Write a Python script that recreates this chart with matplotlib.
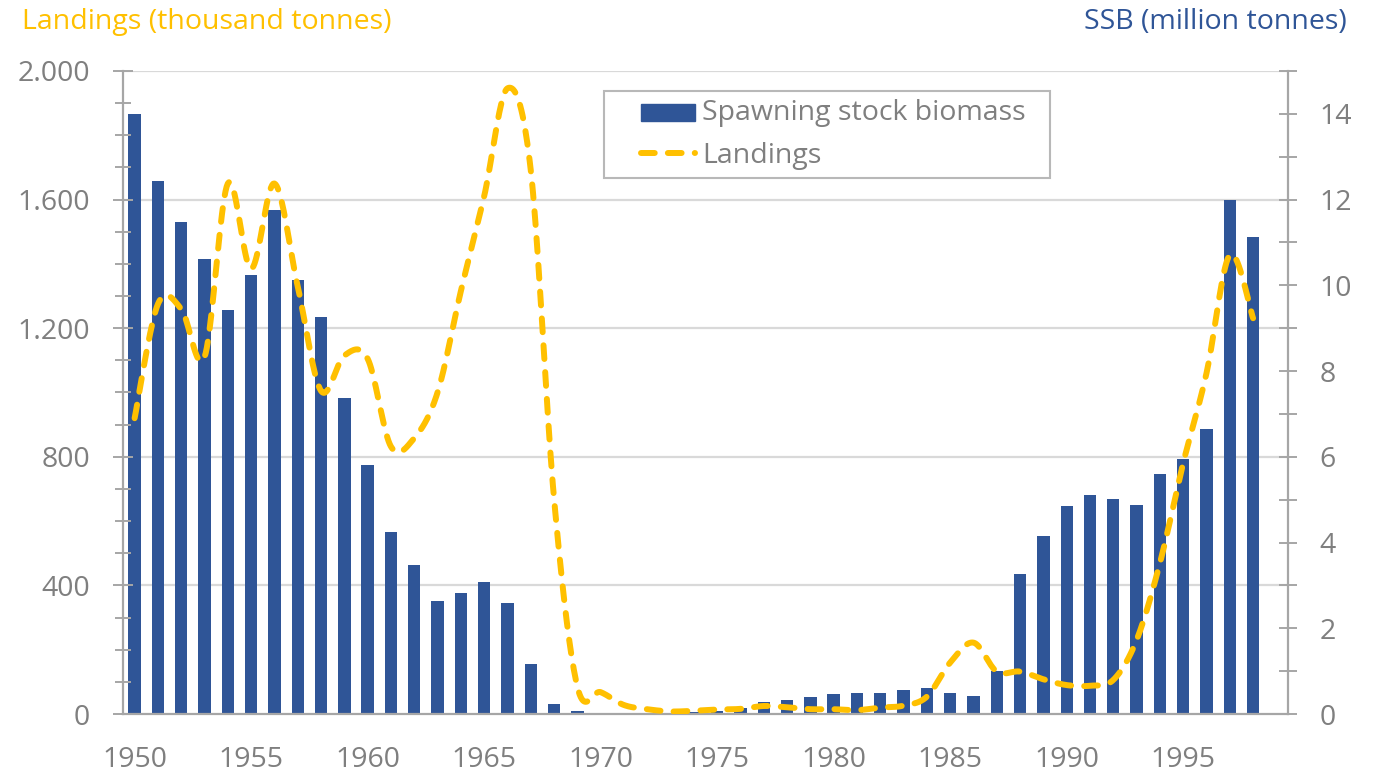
import numpy as np
import matplotlib
matplotlib.use("Agg")
import matplotlib.pyplot as plt
from matplotlib.patches import Patch, Rectangle
from matplotlib.lines import Line2D
from matplotlib.legend_handler import HandlerPatch, HandlerLine2D

plt.rcParams['font.family'] = ['Open Sans', 'DejaVu Sans']

# data
years = list(range(1950, 1999))
# spawning stock biomass, million tonnes (right axis)
ssb = [14.0, 12.44, 11.48, 10.62, 9.43, 10.23, 11.76, 10.13, 9.27, 7.36,
       5.82, 4.24, 3.47, 2.63, 2.82, 3.07, 2.59, 1.16, 0.23, 0.07,
       0.02, 0.01, 0.02, 0.03, 0.05, 0.06, 0.14, 0.27, 0.33, 0.39,
       0.47, 0.49, 0.49, 0.57, 0.60, 0.49, 0.42, 1.0, 3.27, 4.15,
       4.85, 5.11, 5.01, 4.87, 5.59, 5.94, 6.64, 12.0, 11.13]
# landings, thousand tonnes (left axis)
landings = [920, 1275, 1260, 1110, 1650, 1385, 1650, 1330, 1005, 1115,
            1105, 832, 858, 1000, 1315, 1610, 1946, 1692, 670, 85,
            68, 28, 15, 8, 10, 14, 16, 25, 21, 15,
            15, 12, 20, 26, 54, 160, 222, 132, 132, 108,
            90, 88, 106, 230, 469, 780, 1060, 1428, 1231]

year_labels = [1950, 1955, 1960, 1965, 1970, 1975, 1980, 1985, 1990, 1995]
left_ticks = [0, 400, 800, 1200, 1600, 2000]
right_ticks = [0, 2, 4, 6, 8, 10, 12, 14]

BLUE = "#2F5597"
GOLD = "#FFC000"
GREY = "#7F7F7F"
AXGREY = "#A6A6A6"
GRIDC = "#D9D9D9"
FS = 20.5
DASH = (0, (2.3, 2.2))


def smooth(x, y, n=20):
    # Excel style smoothed line (Catmull-Rom bezier through the points)
    x = np.asarray(x, float)
    y = np.asarray(y, float)
    px, py = [], []
    for i in range(len(x) - 1):
        x0, y0 = (x[i - 1], y[i - 1]) if i > 0 else (x[i], y[i])
        x3, y3 = (x[i + 2], y[i + 2]) if i + 2 < len(x) else (x[i + 1], y[i + 1])
        x1, y1, x2, y2 = x[i], y[i], x[i + 1], y[i + 1]
        c1x, c1y = x1 + (x2 - x0) / 6, y1 + (y2 - y0) / 6
        c2x, c2y = x2 - (x3 - x1) / 6, y2 - (y3 - y1) / 6
        t = np.linspace(0, 1, n, endpoint=False)
        a, b, c, d = (1 - t) ** 3, 3 * t * (1 - t) ** 2, 3 * t ** 2 * (1 - t), t ** 3
        px.extend(a * x1 + b * c1x + c * c2x + d * x2)
        py.extend(a * y1 + b * c1y + c * c2y + d * y2)
    px.append(x[-1])
    py.append(y[-1])
    return np.array(px), np.array(py)


# legend handles sit on the right part of the handle box, like in Excel
SHIFT = 0.34


def bar_handle(legend, orig_handle, xdescent, ydescent, width, height, fontsize):
    return Rectangle((-xdescent + width * SHIFT, -ydescent - height * 0.05),
                     width * (1 - SHIFT), height * 0.85)


class ShiftedLine(HandlerLine2D):
    def get_xdata(self, legend, xdescent, ydescent, width, height, fontsize):
        xd = np.array([-xdescent + width * SHIFT, -xdescent + width])
        return xd, xd


fig = plt.figure(figsize=(13.77, 7.73), dpi=100)
ax = fig.add_axes([0.0893, 0.0763, 0.8461, 0.8319])
ax2 = ax.twinx()
ax.set_zorder(2)
ax.patch.set_visible(False)
ax2.set_zorder(1)

LMAX = 2000
RMAX = 15

# bars on the right axis
ax2.bar(years, ssb, width=0.53, color=BLUE, zorder=2)
ax2.set_ylim(0, RMAX)
# horizontal grid at the left axis ticks
for v in left_ticks[1:]:
    ax2.axhline(v * RMAX / LMAX, color=GRIDC, lw=1.6, zorder=0)

# landings line on the left axis
sx, sy = smooth(years, landings)
ax.plot(sx, sy, color=GOLD, lw=4.3, ls=DASH,
        dash_capstyle='round', solid_capstyle='round', zorder=3)
ax.set_ylim(0, LMAX)
ax.set_xlim(1949.5, 1999.5)

# left axis
ax.set_yticks(left_ticks)
ax.set_yticklabels(["{:,}".format(v).replace(",", ".") for v in left_ticks])
ax.set_yticks(np.arange(0, LMAX + 1, 100), minor=True)
ax.tick_params(axis='y', which='major', direction='inout', length=15, width=1.4,
               color=AXGREY, labelcolor=GREY, labelsize=FS, pad=16)
ax.tick_params(axis='y', which='minor', direction='inout', length=11, width=1.4,
               color=AXGREY)
ax.set_xticks(year_labels)
ax.tick_params(axis='x', length=0, labelcolor=GREY, labelsize=FS, pad=23)

# right axis
ax2.set_yticks(right_ticks)
ax2.set_yticks(np.arange(0, RMAX + 1, 1), minor=True)
ax2.tick_params(axis='y', which='major', direction='inout', length=13.5, width=1.4,
                color=AXGREY, labelcolor=GREY, labelsize=FS, pad=16)
ax2.tick_params(axis='y', which='minor', direction='inout', length=13.5, width=1.4,
                color=AXGREY)

for a in (ax, ax2):
    for s in a.spines.values():
        s.set_visible(False)
ax.spines['left'].set_visible(True)
ax.spines['bottom'].set_visible(True)
ax2.spines['right'].set_visible(True)
for s in (ax.spines['left'], ax.spines['bottom'], ax2.spines['right']):
    s.set_color(AXGREY)
    s.set_linewidth(1.6)

# axis titles
fig.text(22 / 1377, 1 - 22 / 773, "Landings (thousand tonnes)", color=GOLD,
         fontsize=FS, ha='left', va='center')
fig.text(1347 / 1377, 1 - 22 / 773, "SSB (million tonnes)", color=BLUE,
         fontsize=FS, ha='right', va='center')

h_bar = Patch(facecolor=BLUE, edgecolor=BLUE)
h_line = Line2D([], [], color=GOLD, lw=4.3, ls=DASH, dash_capstyle='round')
leg = ax.legend([h_bar, h_line], ["Spawning stock biomass", "Landings"],
                handler_map={Patch: HandlerPatch(patch_func=bar_handle),
                             Line2D: ShiftedLine()},
                loc='upper left', bbox_to_anchor=(0.413, 0.0, 0.383, 0.969),
                mode='expand', borderaxespad=0, fontsize=FS, frameon=True,
                fancybox=False, handlelength=2.9, handletextpad=0.25,
                borderpad=0.3, labelspacing=0.5)
for t in leg.get_texts():
    t.set_color(GREY)
leg.get_frame().set_edgecolor(AXGREY)
leg.get_frame().set_linewidth(1.5)

fig.savefig("out.png", dpi=100)
